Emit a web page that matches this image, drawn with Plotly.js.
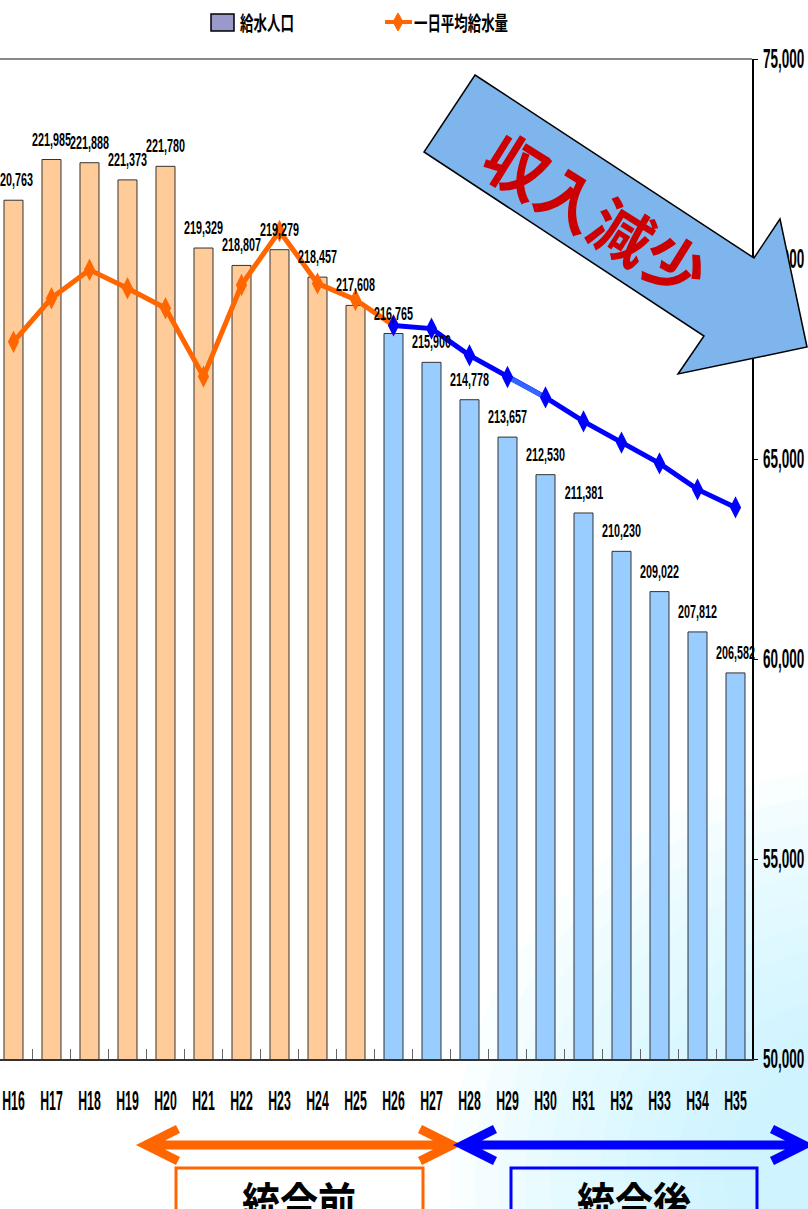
<!DOCTYPE html>
<html><head><meta charset="utf-8">
<script src="https://cdn.plot.ly/plotly-3.0.1.min.js"></script>
<style>html,body{margin:0;padding:0;background:#fff;overflow:hidden;}</style>
</head><body><div id="chart" style="width:808px;height:1209px;"></div>
<script>
// ---- data ----
const years = ['H16','H17','H18','H19','H20','H21','H22','H23','H24','H25',
               'H26','H27','H28','H29','H30','H31','H32','H33','H34','H35'];
const population = [220763,221985,221888,221373,221780,219329,218807,219279,218457,217608,
                    216765,215900,214778,213657,212530,211381,210230,209022,207812,206582];
const dailyAvg = [67930,69020,69730,69270,68770,67060,69350,70700,69390,68980,
                  68340,68260,67590,67050,66540,65940,65410,64890,64240,63790];
const splitIndex = 10;           // H26 onward = 統合後
const legendNames = ['給水人口','一日平均給水量'];
const periodLabels = ['統合前','統合後'];
const calloutText = '収入減少';

// ---- geometry helpers (pixel -> paper) ----
const PL=0, PR=752, PT=59, PB=1059;
const fx = p => (p-PL)/(PR-PL);
const fy = p => (PB-p)/(PB-PT);
const P = (x,y) => fx(x)+','+fy(y);

const SANS = '"Liberation Sans", Arial, sans-serif';
const CJK = '"Noto Sans CJK JP", "Noto Sans CJK SC", sans-serif';
const ORANGE = '#FF6600', BLUE = '#0000FF';

const preYears = years.slice(0, splitIndex), postYears = years.slice(splitIndex);

const traces = [
  {type:'bar', x:preYears, y:population.slice(0,splitIndex), width:0.5,
   marker:{color:'#FFCC99', line:{color:'#333', width:1}}, hoverinfo:'skip', showlegend:false},
  {type:'bar', x:postYears, y:population.slice(splitIndex), width:0.5,
   marker:{color:'#99CCFF', line:{color:'#333', width:1}}, hoverinfo:'skip', showlegend:false},
  {type:'scatter', mode:'lines+markers', x:years.slice(0,splitIndex+1), y:dailyAvg.slice(0,splitIndex+1), yaxis:'y2',
   line:{color:ORANGE, width:5}, marker:{symbol:'diamond-tall', size:16, color:ORANGE}, showlegend:false},
  {type:'scatter', mode:'lines', x:postYears, y:dailyAvg.slice(splitIndex), yaxis:'y2',
   line:{color:BLUE, width:5}, showlegend:false},
  {type:'scatter', mode:'lines', x:years.slice(13,15), y:dailyAvg.slice(13,15), yaxis:'y2',
   line:{color:'#3366FF', width:5}, showlegend:false},
  {type:'scatter', mode:'markers', x:postYears, y:dailyAvg.slice(splitIndex), yaxis:'y2',
   marker:{symbol:'diamond-tall', size:16, color:BLUE}, showlegend:false}
];

const shapes = [];
// soft cyan background glow
for (let i=0;i<12;i++){
  const r = 410 - i*25, cx = 860, cy = 1180;
  shapes.push({type:'circle', xref:'paper', yref:'paper', layer:'below',
    x0:fx(cx-r), x1:fx(cx+r), y0:fy(cy+r), y1:fy(cy-r),
    fillcolor:'rgba(190,245,250,0.09)', line:{width:0}});
}
// top border
shapes.push({type:'line', xref:'paper', yref:'paper', x0:0, x1:1, y0:1, y1:1, line:{color:'#888', width:2}});
// big arrow
shapes.push({type:'path', xref:'paper', yref:'paper', layer:'above',
  path:'M'+P(475,75)+' L'+P(754,258)+' L'+P(780,219)+' L'+P(807,347)+' L'+P(678,374)+' L'+P(704,336)+' L'+P(424,152)+' Z',
  fillcolor:'#7DB5EC', line:{color:'#000', width:1.5}});
// bottom double arrows
function dblArrow(x1,x2,y,color){
  const hx=32, hy=16;
  return {type:'path', xref:'paper', yref:'paper',
    path:'M'+P(x1,y)+' L'+P(x2,y)+' M'+P(x1+hx,y-hy)+' L'+P(x1,y)+' L'+P(x1+hx,y+hy)+
         ' M'+P(x2-hx,y-hy)+' L'+P(x2,y)+' L'+P(x2-hx,y+hy),
    line:{color:color, width:9}};
}
shapes.push(dblArrow(146,452,1145,ORANGE));
shapes.push(dblArrow(463,804,1145,BLUE));
// period boxes
shapes.push({type:'rect', xref:'paper', yref:'paper', x0:fx(176), x1:fx(423), y0:fy(1168), y1:fy(1222), line:{color:ORANGE, width:3}});
shapes.push({type:'rect', xref:'paper', yref:'paper', x0:fx(511), x1:fx(757), y0:fy(1168), y1:fy(1222), line:{color:BLUE, width:3}});
// custom legend symbols
shapes.push({type:'rect', xref:'paper', yref:'paper', x0:fx(211), x1:fx(234), y0:fy(31), y1:fy(14),
  fillcolor:'#9999CC', line:{color:'#000', width:1.5}});
shapes.push({type:'line', xref:'paper', yref:'paper', x0:fx(385), x1:fx(412), y0:fy(22), y1:fy(22), line:{color:ORANGE, width:4}});
shapes.push({type:'path', xref:'paper', yref:'paper',
  path:'M'+P(398,13)+' L'+P(403,22)+' L'+P(398,31)+' L'+P(393,22)+' Z', fillcolor:ORANGE, line:{color:ORANGE, width:1}});

const annotations = population.map((v,i)=>({
  x:years[i], y:v, xref:'x', yref:'y', text:v.toLocaleString('en-US'), showarrow:false,
  yanchor:'bottom', yshift:8, font:{family:SANS, size:18, color:'#000', weight:'bold'}
}));
// legend texts: centre = left edge + condensed width / 2
annotations.push({xref:'paper', yref:'paper', x:fx(240+27), y:fy(23), xanchor:'center', yanchor:'middle',
  text:legendNames[0], showarrow:false, font:{family:CJK, size:20, color:'#000', weight:'bold'}});
annotations.push({xref:'paper', yref:'paper', x:fx(414+47), y:fy(23), xanchor:'center', yanchor:'middle',
  text:legendNames[1], showarrow:false, font:{family:CJK, size:20, color:'#000', weight:'bold'}});
annotations.push({xref:'paper', yref:'paper', x:fx(597), y:fy(213), xanchor:'center', yanchor:'middle',
  text:calloutText, showarrow:false, textangle:32, font:{family:CJK, size:62, color:'#CC0000', weight:'bold'}});
annotations.push({xref:'paper', yref:'paper', x:fx(299), y:fy(1201), xanchor:'center', yanchor:'middle',
  text:periodLabels[0], showarrow:false, font:{family:CJK, size:44, color:'#000', weight:'bold'}});
annotations.push({xref:'paper', yref:'paper', x:fx(634), y:fy(1201), xanchor:'center', yanchor:'middle',
  text:periodLabels[1], showarrow:false, font:{family:CJK, size:44, color:'#000', weight:'bold'}});

const layout = {
  width:808, height:1209, autosize:false,
  margin:{l:0, r:56, t:59, b:150, pad:0},
  paper_bgcolor:'#fff', plot_bgcolor:'rgba(0,0,0,0)',
  barmode:'overlay', showlegend:false,
  xaxis:{type:'category', range:[-0.355, 19.434], showgrid:false, zeroline:false,
    showline:true, linecolor:'#333', linewidth:2, ticks:'inside', ticklen:10, tickcolor:'#666', tickwidth:1,
    tickson:'boundaries', ticklabelstandoff:15, tickangle:0,
    tickfont:{family:SANS, size:28, color:'#000', weight:'bold'}},
  yaxis:{range:[195000,225000], visible:false, showgrid:false, zeroline:false},
  yaxis2:{overlaying:'y', side:'right', range:[50000,75000], dtick:5000, tickformat:',.0f',
    showgrid:false, zeroline:false, showline:true, linecolor:'#000', linewidth:1.5,
    ticks:'outside', ticklen:4, tickcolor:'#000', ticklabelstandoff:0,
    tickfont:{family:SANS, size:27, color:'#000', weight:'bold'}},
  shapes:shapes, annotations:annotations
};

// horizontally condense text (the reference uses a tall, very narrow face)
function squeeze(nodes, fn){
  nodes.forEach(t => {
    const L = t.getComputedTextLength();
    if (L > 0) { t.setAttribute('textLength', fn(L).toFixed(1)); t.setAttribute('lengthAdjust','spacingAndGlyphs'); }
  });
}
Plotly.newPlot('chart', traces, layout, {staticPlot:true, displayModeBar:false}).then(gd => {
  squeeze(gd.querySelectorAll('.xtick text'), L => L*0.44);
  squeeze(gd.querySelectorAll('.y2tick text'), L => L*0.5);
  const ann = gd.querySelectorAll('.infolayer .annotation');
  const n = population.length;
  ann.forEach(a => {
    const idx = +a.getAttribute('data-index');
    const t = a.querySelectorAll('text');
    if (idx < n) squeeze(t, L => L*0.6);
    else if (idx === n) squeeze(t, () => 54);
    else if (idx === n+1) squeeze(t, () => 94);
    else if (idx >= n+3) squeeze(t, () => 114);
  });
});
</script></body></html>
